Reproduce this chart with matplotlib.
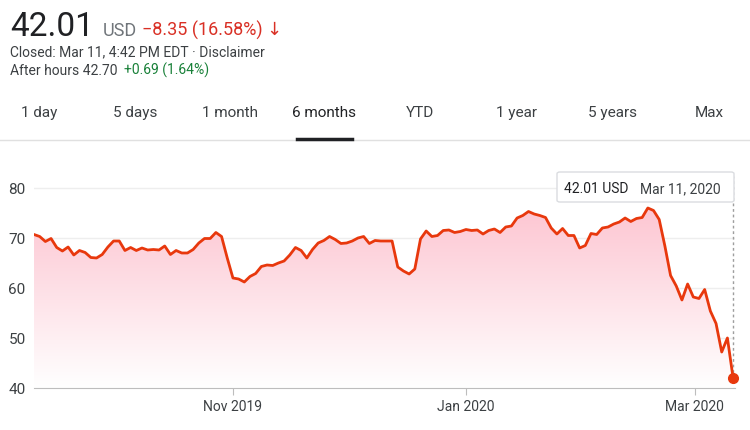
import matplotlib
matplotlib.use("Agg")
import matplotlib.pyplot as plt
import numpy as np
import pandas as pd
from matplotlib.patches import Polygon, FancyBboxPatch

prices = [70.7,70.3,69.3,69.9,68.1,67.4,68.2,66.6,67.5,67.1,66.1,66.0,66.7,68.2,69.4,69.4,
          67.5,68.1,67.5,68.0,67.6,67.7,67.6,68.4,66.7,67.5,67.0,67.0,67.7,69.0,69.9,69.9,
          71.1,70.3,66.0,62.0,61.8,61.2,62.3,62.9,64.3,64.6,64.5,65.0,65.4,66.6,68.1,67.5,
          66.0,67.7,69.0,69.5,70.3,69.7,68.9,69.0,69.4,70.0,70.3,68.9,69.5,69.4,69.4,69.4,
          64.2,63.4,62.8,63.8,69.8,71.4,70.3,70.5,71.5,71.6,71.1,71.3,71.7,71.5,71.6,70.8,
          71.5,71.8,71.1,72.2,72.4,74.0,74.5,75.3,74.8,74.5,74.1,72.0,70.8,71.9,70.5,70.5,
          68.0,68.5,70.9,70.7,72.0,72.2,72.8,73.2,74.0,73.3,73.9,74.1,76.0,75.5,73.7,68.4,
          62.5,60.4,57.6,60.8,58.2,57.9,59.7,55.4,52.9,47.2,50.0,42.01]
dates = pd.date_range("2019-09-10", "2020-03-11", periods=len(prices))
yticks = [40, 50, 60, 70, 80]
xtick_dates = ["2019-11-01", "2020-01-01", "2020-03-01"]
xtick_labels = ["Nov 2019", "Jan 2020", "Mar 2020"]
tabs = ["1 day", "5 days", "1 month", "6 months", "YTD", "1 year", "5 years", "Max"]
tab_x = [39, 135, 230, 324, 420, 516, 612, 709]

W, H = 750, 431
fig = plt.figure(figsize=(7.5, 4.31), dpi=100)
plt.rcParams['font.family'] = ['Roboto', 'DejaVu Sans']
red = "#d93025"; line_red = "#e8380d"; gray = "#3c4043"; green = "#188038"

def fx(x): return x / W
def fy(y): return 1 - y / H

fig.text(fx(10), fy(36), "42.01", fontsize=24, color="#202124", va="baseline")
fig.text(fx(103), fy(36), "USD", fontsize=13, color="#70757a", va="baseline")
fig.text(fx(142), fy(36), "\u22128.35 (16.58%) \u2193", fontsize=13, color=red, va="baseline")
fig.text(fx(10), fy(56), "Closed: Mar 11, 4:42 PM EDT \u00b7 Disclaimer", fontsize=10, color=gray, va="baseline")
fig.text(fx(10), fy(75), "After hours 42.70", fontsize=10, color=gray, va="baseline")
fig.text(fx(124), fy(75), "+0.69 (1.64%)", fontsize=10, color=green, va="baseline")
for lab, x in zip(tabs, tab_x):
    fig.text(fx(x), fy(117), lab, fontsize=11, ha="center", va="baseline",
             color="#202124" if lab == "6 months" else gray)
fig.add_artist(plt.Line2D([0, 1], [fy(141), fy(141)], color="#e0e0e0", lw=1))
fig.add_artist(plt.Line2D([fx(297), fx(352)], [fy(140), fy(140)], color="#202124", lw=2.5))

ax = fig.add_axes([fx(34), fy(389), fx(735 - 34), fy(169) - fy(389)])
x = matplotlib.dates.date2num(dates)
ax.set_xlim(x[0], x[-1] + 0.5)
ax.set_ylim(40, 84)
grad = np.linspace(0, 1, 256).reshape(-1, 1)
cmap = matplotlib.colors.LinearSegmentedColormap.from_list("g", ["#ffffff", "#fdc6d2"])
im = ax.imshow(grad, extent=[x[0], x[-1], 40, 76], origin="lower", aspect="auto", cmap=cmap, zorder=1)
poly = Polygon(np.column_stack([np.r_[x, x[-1], x[0]], np.r_[prices, 40, 40]]), transform=ax.transData)
im.set_clip_path(poly)
ax.plot(x, prices, color=line_red, lw=2, zorder=3)
ax.plot(x[-1], prices[-1], "o", color=line_red, ms=7, zorder=4, clip_on=False)
ax.set_yticks(yticks)
ax.yaxis.grid(True, color="#eeeeee", lw=1)
ax.set_axisbelow(True)
for s in ["top", "right", "left"]:
    ax.spines[s].set_visible(False)
ax.spines["bottom"].set_color("#bdbdbd")
ax.tick_params(axis="y", length=0, labelsize=11, labelcolor=gray, pad=6)
ax.set_xticks(matplotlib.dates.date2num(pd.to_datetime(xtick_dates)))
ax.set_xticklabels(xtick_labels)
ax.tick_params(axis="x", length=5, color="#bdbdbd", labelsize=10, labelcolor=gray, pad=3)
ax.plot([x[-1], x[-1]], [42, 82.5], ls=(0, (2, 2)), color="#9e9e9e", lw=1, zorder=2, clip_on=False)
box = FancyBboxPatch((fx(557), fy(203)), fx(177), fy(173) - fy(203),
                     boxstyle="round,pad=0,rounding_size=0.004", transform=fig.transFigure,
                     facecolor="white", edgecolor="#dadce0", lw=1, zorder=10)
fig.add_artist(box)
fig.text(fx(564), fy(193), "42.01 USD", fontsize=10, color="#202124", va="baseline", zorder=11)
fig.text(fx(640), fy(193), "Mar 11, 2020", fontsize=10, color=gray, va="baseline", zorder=11)
fig.savefig("out.png", dpi=100)
